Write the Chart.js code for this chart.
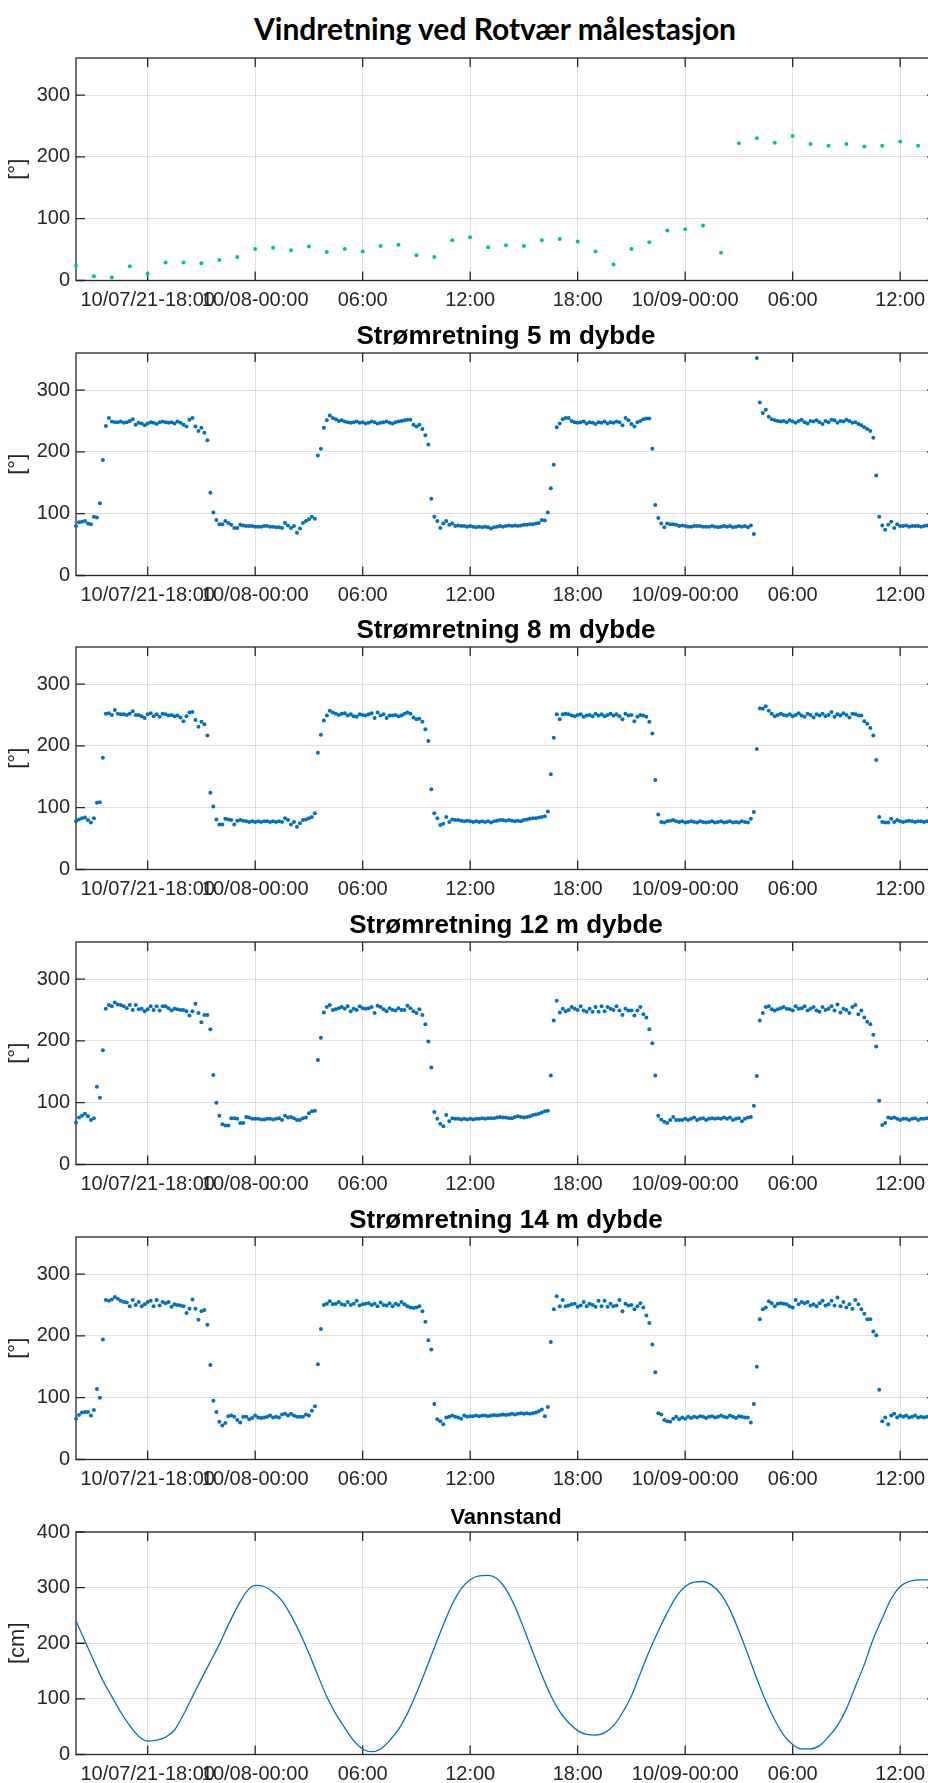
<!DOCTYPE html>
<html>
<head>
<meta charset="utf-8">
<script src="https://cdn.jsdelivr.net/npm/chart.js@4.4.0/dist/chart.umd.min.js"></script>
<style>
  html, body { margin: 0; padding: 0; background: #fff; }
  body { width: 928px; height: 1783px; overflow: hidden; position: relative; }
  #title { position: absolute; left: 0; top: 10px; width: 990px; text-align: center;
           font: bold 30px Lato, sans-serif; line-height: 1.2; color: #000; }
  canvas { position: absolute; left: 0; }
</style>
</head>
<body>
<div id="title">Vindretning ved Rotvær målestasjon</div>
<script>
// time axis, hours counted from 10/07 00:00
const startHour = 14
const endHour = 62
const xTickHours = [18, 24, 30, 36, 42, 48, 54, 60]
const xTickLabels = ['10/07/21-18:00', '10/08-00:00', '06:00', '12:00', '18:00', '10/09-00:00', '06:00', '12:00']
const dirTicks = [0, 100, 200, 300]
const levelTicks = [0, 100, 200, 300, 400]

// wind direction, hourly
const windDir = [24, 7, 5, 23, 11, 29, 29, 28, 33, 38, 51, 53, 49, 55, 46, 51, 47, 56, 58, 41,
  38, 65, 70, 54, 57, 56, 65, 67, 63, 47, 26, 51, 62, 81, 83, 89, 45, 222, 230, 223,
  234, 221, 218, 221, 217, 218, 225, 218]

// current direction, every 10 min
const cur5 = [80,86,87,88,84,83,95,94,117,187,242,255,
  249,248,248,249,247,248,250,253,244,247,246,243,
  246,248,247,245,248,249,248,247,248,246,249,247,
  244,241,252,255,241,234,239,231,219,134,102,90,
  83,83,88,85,82,77,77,82,81,80,80,80,
  79,79,79,80,80,79,79,78,78,77,85,81,
  77,80,69,76,85,88,91,95,92,194,205,239,
  251,259,255,253,250,251,249,248,247,248,249,247,
  248,246,247,249,248,246,247,248,249,247,246,248,
  249,250,251,252,252,244,241,244,237,227,212,124,
  95,88,77,84,88,82,84,80,81,80,80,79,
  80,79,78,79,78,79,78,76,78,79,80,79,
  80,81,80,81,80,81,82,82,83,83,84,85,
  90,89,102,141,179,240,246,253,255,255,250,248,
  247,248,249,246,248,247,245,248,247,249,246,248,
  247,249,248,243,255,251,245,241,248,250,253,254,
  254,205,114,93,84,78,84,83,83,82,80,81,
  80,79,79,80,80,80,79,79,79,80,79,78,
  79,80,79,80,78,79,80,79,80,78,81,67,
  352,280,263,268,257,253,251,250,249,250,248,251,
  249,247,250,252,248,246,250,249,251,248,245,250,
  248,252,251,247,250,249,252,250,247,248,245,243,
  240,237,234,223,162,95,81,74,82,87,77,83,
  80,80,81,79,80,80,80,79,80,81,80,80]

const cur8 = [78,81,83,84,80,76,83,108,109,181,252,253,
  250,258,252,251,251,250,252,256,250,250,248,245,
  251,253,248,251,247,252,251,249,250,248,249,246,
  240,248,254,255,242,231,239,235,217,124,102,81,
  73,73,82,81,80,73,79,80,79,78,77,78,
  77,78,77,78,78,77,78,77,78,77,83,80,
  73,77,69,75,80,81,83,85,91,189,218,241,
  249,257,254,252,250,252,253,249,251,248,247,251,
  250,249,251,253,245,254,249,251,245,249,249,250,
  248,249,252,254,252,246,243,244,239,227,208,130,
  91,83,72,74,85,77,81,80,80,79,78,79,
  78,77,78,77,78,77,78,76,78,79,80,80,
  79,80,79,78,79,78,80,81,82,83,83,84,
  85,86,94,154,213,251,243,251,252,251,249,248,
  250,251,247,249,250,248,252,249,251,248,250,252,
  249,251,248,243,252,249,250,240,247,250,249,247,
  239,220,145,89,77,76,78,79,80,78,77,78,
  76,77,78,77,76,78,77,76,77,78,76,77,
  78,76,77,78,76,77,76,78,77,76,82,93,
  195,261,260,264,257,252,248,250,252,250,249,251,
  248,250,253,249,247,252,250,246,251,249,252,248,
  250,255,247,251,249,253,250,246,252,251,249,249,
  240,236,229,217,177,85,77,76,76,82,77,80,
  78,77,78,79,78,77,78,78,77,78,79,78]

const cur12 = [68,76,79,82,78,72,75,126,108,185,252,258,
  256,262,259,258,256,253,258,250,258,251,252,248,
  251,256,250,256,249,256,256,253,249,252,251,250,
  250,248,241,248,260,245,230,242,242,219,145,100,
  79,65,63,63,75,75,74,67,67,77,76,74,
  74,74,73,73,74,74,73,74,75,72,79,76,
  77,75,72,72,75,76,83,86,87,169,205,246,
  255,258,250,251,253,255,252,256,248,252,250,256,
  253,252,253,255,245,257,255,251,248,253,250,249,
  253,250,250,257,253,248,245,251,242,227,199,157,
  85,74,66,62,80,70,75,74,74,73,74,73,
  74,73,74,74,75,74,75,75,75,76,77,76,
  76,75,75,77,78,77,76,77,78,80,81,82,
  84,86,87,144,233,265,246,252,248,250,255,252,
  250,256,249,247,252,247,255,247,256,248,255,252,
  250,256,249,242,252,249,249,241,249,255,243,238,
  219,196,144,79,73,69,67,72,77,72,72,72,
  74,72,74,76,72,74,75,72,74,75,74,75,
  74,76,74,76,72,74,75,70,74,76,77,95,
  143,233,245,255,256,251,249,251,253,255,252,251,
  249,256,252,253,256,249,252,255,249,247,255,250,
  252,256,249,259,246,252,250,245,255,258,243,249,
  238,231,227,210,191,103,64,67,76,75,76,74,
  72,74,74,72,74,75,72,74,74,75,74,74]

const cur14 = [66,72,76,77,77,71,80,114,100,194,258,257,
  259,263,260,257,255,254,248,258,250,255,248,251,
  255,257,248,258,249,255,253,255,247,251,250,249,
  248,237,244,259,244,226,240,242,218,153,95,77,
  61,55,59,70,71,69,64,60,69,69,65,67,
  71,68,67,68,69,71,68,69,68,73,74,71,
  74,71,69,69,69,73,71,79,86,154,211,250,
  252,256,251,252,255,251,250,255,250,252,257,249,
  251,252,253,250,252,248,254,250,249,253,248,252,
  250,255,251,248,246,245,246,248,240,223,193,178,
  90,65,62,57,68,69,71,69,68,66,71,69,
  70,70,71,70,71,71,70,71,72,71,72,73,
  72,73,74,73,74,75,74,75,74,75,76,78,
  81,70,85,190,243,264,248,258,248,249,251,252,
  247,249,255,248,252,250,247,257,248,257,247,252,
  248,249,258,240,252,249,250,243,248,253,246,233,
  221,186,141,75,73,64,62,61,66,69,65,68,
  66,69,67,69,68,70,69,67,69,70,68,69,
  71,69,68,71,69,67,70,69,68,68,60,90,
  150,227,243,246,256,253,248,252,253,252,251,248,
  246,258,251,255,253,255,249,251,248,253,257,249,
  251,257,249,262,248,255,246,251,244,258,251,243,
  236,227,227,207,201,113,62,68,57,71,74,68,
  71,69,71,68,69,71,68,69,68,69,68,69]

// water level, every 30 min
const waterLevel = [240,204,168,133,104,76,52,33,24,26,31,44,
  72,104,136,167,198,233,265,292,304,302,292,276,
  250,218,182,142,104,73,48,25,10,5,10,25,
  45,74,110,150,192,233,270,298,314,321,322,316,
  297,266,226,184,143,106,77,57,43,36,35,39,
  52,75,105,146,186,222,255,284,302,310,311,304,
  288,260,222,180,136,96,62,35,18,10,10,16,
  32,52,82,122,162,208,245,280,302,311,314,314,
  310]

const blue = '#0072bd'
const green = '#00cc66'
const gridColor = 'rgba(38,38,38,0.15)'
const axisColor = '#262626'

const panels = [
  { top: 58, title: '', values: windDir, step: 1, color: green, yMax: 360, yTicks: dirTicks, yLabel: '[°]' },
  { top: 352.7, title: 'Strømretning 5 m dybde', values: cur5, step: 1 / 6, color: blue, yMax: 360, yTicks: dirTicks, yLabel: '[°]' },
  { top: 647.4, title: 'Strømretning 8 m dybde', values: cur8, step: 1 / 6, color: blue, yMax: 360, yTicks: dirTicks, yLabel: '[°]' },
  { top: 942.1, title: 'Strømretning 12 m dybde', values: cur12, step: 1 / 6, color: blue, yMax: 360, yTicks: dirTicks, yLabel: '[°]' },
  { top: 1236.8, title: 'Strømretning 14 m dybde', values: cur14, step: 1 / 6, color: blue, yMax: 360, yTicks: dirTicks, yLabel: '[°]' },
  { top: 1531.5, title: 'Vannstand', titleSize: 22, values: waterLevel, step: 0.5, color: blue, yMax: 400, yTicks: levelTicks, yLabel: '[cm]', line: true },
]

// box with inward ticks like the original plots
const framePlugin = {
  id: 'frame',
  beforeDatasetsDraw(chart) {
    const { ctx, chartArea: a, scales } = chart
    ctx.save()
    ctx.strokeStyle = axisColor
    ctx.lineWidth = 1.3
    ctx.beginPath()
    scales.x.ticks.forEach(t => {
      const px = scales.x.getPixelForValue(t.value)
      ctx.moveTo(px, a.bottom); ctx.lineTo(px, a.bottom - 9)
      ctx.moveTo(px, a.top); ctx.lineTo(px, a.top + 9)
    })
    scales.y.ticks.forEach(t => {
      const py = scales.y.getPixelForValue(t.value)
      ctx.moveTo(a.left, py); ctx.lineTo(a.left + 9, py)
      ctx.moveTo(a.right, py); ctx.lineTo(a.right - 9, py)
    })
    ctx.stroke()
    ctx.strokeRect(a.left, a.top, a.right - a.left, a.bottom - a.top)
    ctx.restore()
  }
}

const tickFont = { family: "'Liberation Sans', Arial", size: 20 }
const labelFont = { family: "'Liberation Sans', Arial", size: 22 }

panels.forEach(p => {
  const canvas = document.createElement('canvas')
  canvas.width = 940
  canvas.height = 303
  canvas.style.top = (p.top - 40) + 'px'
  document.body.appendChild(canvas)

  const size = p.titleSize || 26
  const padTop = 24 - size * 0.6 - (size < 26 ? -1.5 : 0)
  new Chart(canvas, {
    type: 'scatter',
    data: {
      datasets: [{
        data: p.values.map((v, i) => ({ x: startHour + i * p.step, y: v })),
        backgroundColor: p.color,
        borderColor: p.color,
        pointRadius: p.line ? 0 : 2,
        pointBorderWidth: 0,
        showLine: !!p.line,
        borderWidth: 1.3,
        cubicInterpolationMode: 'monotone',
        clip: p.line ? 0 : false,
      }]
    },
    options: {
      responsive: false,
      animation: false,
      devicePixelRatio: 1,
      layout: { padding: { top: p.title ? 0 : 40, right: 4, left: 0, bottom: 0 } },
      plugins: {
        legend: { display: false },
        tooltip: { enabled: false },
        title: {
          display: !!p.title,
          text: p.title,
          fullSize: false,
          color: '#000',
          font: { family: "'Liberation Sans', Arial", size: size, weight: 'bold' },
          padding: { top: padTop, bottom: 40 - padTop - size * 1.2 },
        },
      },
      scales: {
        x: {
          type: 'linear',
          min: startHour,
          max: endHour,
          afterBuildTicks: s => { s.ticks = xTickHours.map(v => ({ value: v })) },
          afterFit: s => { s.height = 40.5 },
          grid: { color: gridColor, drawTicks: false },
          border: { display: false },
          ticks: {
            autoSkip: false, maxRotation: 0, minRotation: 0, padding: 8,
            color: axisColor, font: tickFont,
            callback: (v, i) => xTickLabels[i],
          },
        },
        y: {
          min: 0,
          max: p.yMax,
          afterBuildTicks: s => { s.ticks = p.yTicks.map(v => ({ value: v })) },
          afterFit: s => { s.width = 76 },
          grid: { color: gridColor, drawTicks: false },
          border: { display: false },
          ticks: { padding: 6, color: axisColor, font: tickFont },
          title: {
            display: true, text: p.yLabel, color: axisColor,
            font: labelFont, padding: { top: 5, bottom: 0 },
          },
        },
      },
    },
    plugins: [framePlugin],
  })
})
</script>
</body>
</html>
